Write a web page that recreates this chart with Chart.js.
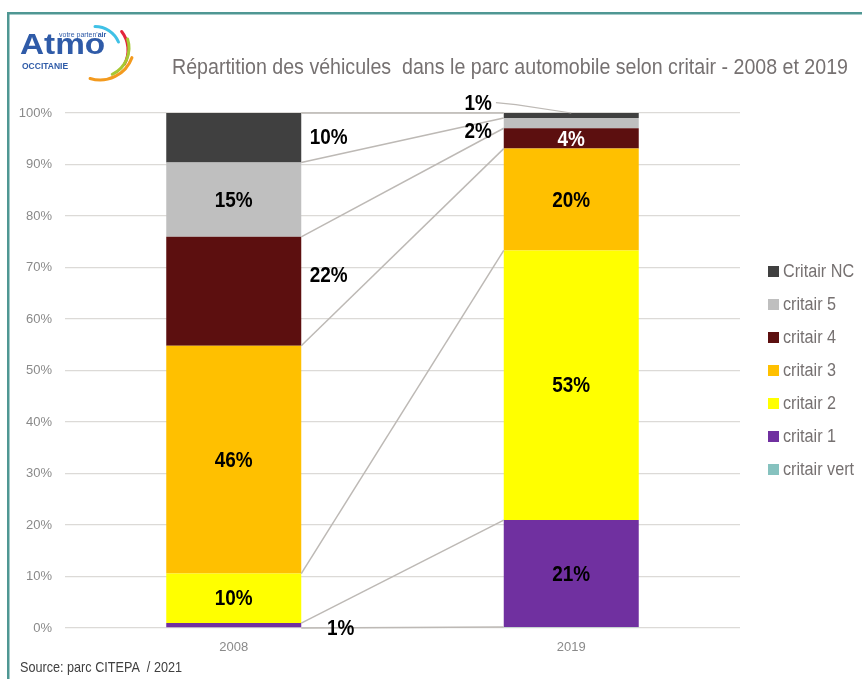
<!DOCTYPE html>
<html>
<head>
<meta charset="utf-8">
<script src="https://cdn.jsdelivr.net/npm/chart.js@4.4.1/dist/chart.umd.min.js"></script>
<style>
  html, body { margin: 0; padding: 0; background: #fff; }
</style>
</head>
<body>
<canvas id="myChart" width="862" height="679"></canvas>
<script>
const years = ['2008', '2019'];
const seriesNames = ['critair vert', 'critair 1', 'critair 2', 'critair 3', 'critair 4', 'critair 5', 'Critair NC'];
const seriesColors = ['#86c2bf', '#7030a0', '#ffff00', '#ffc000', '#5c0f0f', '#bfbfbf', '#404040'];
const insideTextColors = ['#000', '#000', '#000', '#000', '#fff', '#000', '#fff'];
// shares as labelled on the chart (Excel stacks them at 100%)
const shares2008 = [0, 1, 10, 46, 22, 15, 10];
const shares2019 = [0.2, 21, 53, 20, 4, 2, 1];
const yTicks = [0, 10, 20, 30, 40, 50, 60, 70, 80, 90, 100];

const FONT = "'Liberation Sans', Arial, sans-serif";
const rawByYear = [shares2008, shares2019];
const totals = rawByYear.map(a => a.reduce((s, v) => s + v, 0));

const datasets = seriesNames.map((name, i) => ({
  label: name,
  data: rawByYear.map((a, y) => a[i] / totals[y] * 100),
  backgroundColor: seriesColors[i],
  borderWidth: 0,
  barPercentage: 0.4,
  categoryPercentage: 1
}));

// labels moved out of their bar, like in the original sheet
const movedLabels = {
  '6-0': { dx: 95, dy: -1 },
  '4-0': { dx: 95, dy: -16 },
  '1-0': { dx: 107, dy: 3 },
  '6-1': { dx: -93, dy: -13, leader: true },
  '5-1': { dx: -93, dy: 8 }
};

// Arial Narrow is not available: squeeze Liberation Sans horizontally
function narrowText(ctx, txt, x, y, sx) {
  ctx.save();
  ctx.translate(x, y);
  ctx.scale(sx, 1);
  ctx.fillText(txt, 0, 0);
  ctx.restore();
}

const seriesLines = {
  id: 'seriesLines',
  afterDatasetsDraw(chart) {
    const ctx = chart.ctx;
    ctx.save();
    ctx.strokeStyle = '#bdb9b5';
    ctx.lineWidth = 1.5;
    chart.data.datasets.forEach((ds, i) => {
      const meta = chart.getDatasetMeta(i);
      const a = meta.data[0], b = meta.data[1];
      ctx.beginPath();
      ctx.moveTo(a.x + a.width / 2, a.y);
      ctx.lineTo(b.x - b.width / 2, b.y);
      ctx.stroke();
    });
    ctx.restore();
  }
};

const barLabels = {
  id: 'barLabels',
  afterDatasetsDraw(chart) {
    const ctx = chart.ctx;
    const sx = 0.86;
    ctx.save();
    ctx.font = 'bold 22px ' + FONT;
    ctx.textAlign = 'center';
    ctx.textBaseline = 'middle';
    chart.data.datasets.forEach((ds, i) => {
      const meta = chart.getDatasetMeta(i);
      meta.data.forEach((el, y) => {
        const raw = rawByYear[y][i];
        if (raw < 0.5) return;
        const txt = Math.round(raw) + '%';
        let x = el.x, cy = (el.y + el.base) / 2;
        const mv = movedLabels[i + '-' + y];
        ctx.fillStyle = insideTextColors[i];
        if (mv) {
          x += mv.dx; cy += mv.dy;
          ctx.fillStyle = '#000';
          if (mv.leader) {
            const w = ctx.measureText(txt).width * sx;
            ctx.save();
            ctx.strokeStyle = '#bdb9b5';
            ctx.lineWidth = 1.2;
            ctx.beginPath();
            ctx.moveTo(x + w / 2 + 4, cy);
            ctx.lineTo(x + w / 2 + 24, cy + 2);
            ctx.lineTo(el.x, el.y);
            ctx.stroke();
            ctx.restore();
          }
        }
        narrowText(ctx, txt, x, cy + 1, sx);
      });
    });
    ctx.restore();
  }
};

const decor = {
  id: 'decor',
  afterDraw(chart) {
    const ctx = chart.ctx;
    const area = chart.chartArea;
    ctx.save();
    // frame
    ctx.fillStyle = '#4f9793';
    ctx.fillRect(7, 12, 855, 2.5);
    ctx.fillRect(7, 12, 2.5, 667);

    // logo
    ctx.fillStyle = '#2f5ba8';
    ctx.textBaseline = 'alphabetic';
    ctx.textAlign = 'left';
    ctx.font = 'bold 29px ' + FONT;
    narrowText(ctx, 'Atmo', 20, 54, 1.15);
    ctx.font = '7px ' + FONT;
    ctx.fillText("votre parten'", 59, 37);
    const w1 = ctx.measureText("votre parten'").width;
    ctx.font = 'bold 7px ' + FONT;
    ctx.fillText('air', 59 + w1, 37);
    ctx.font = 'bold 8.5px ' + FONT;
    ctx.fillText('OCCITANIE', 22, 69);
    const d = Math.PI / 180;
    const arcs = [
      ['#3fc1e6', 95, 52, 25.5, -90, -23],
      ['#e3243b', 98, 50, 30, -38, 28],
      ['#a7c832', 100, 48, 29, -18, 65],
      ['#f39a1e', 100, 46, 34, 20, 107]
    ];
    ctx.lineWidth = 3;
    ctx.lineCap = 'round';
    arcs.forEach(([c, x, y, r, s, e]) => {
      ctx.strokeStyle = c;
      ctx.beginPath();
      ctx.arc(x, y, r, s * d, e * d);
      ctx.stroke();
    });

    // title
    const title = 'Répartition des véhicules  dans le parc automobile selon critair - 2008 et 2019';
    ctx.fillStyle = '#767171';
    ctx.font = '22px ' + FONT;
    ctx.textBaseline = 'middle';
    narrowText(ctx, title, 172, 68, 676 / ctx.measureText(title).width);

    // source
    const src = 'Source: parc CITEPA  / 2021';
    ctx.fillStyle = '#404040';
    ctx.font = '15px ' + FONT;
    narrowText(ctx, src, 20, 668, 162 / ctx.measureText(src).width);

    // legend
    const n = chart.data.datasets.length;
    const step = 33;
    const y0 = (area.top + area.bottom) / 2 - step * (n - 1) / 2;
    ctx.font = '18px ' + FONT;
    for (let k = n - 1; k >= 0; k--) {
      const ds = chart.data.datasets[k];
      const yy = y0 + (n - 1 - k) * step;
      ctx.fillStyle = ds.backgroundColor;
      ctx.fillRect(768, yy - 5.5, 11, 11);
      ctx.fillStyle = '#767171';
      narrowText(ctx, ds.label, 783, yy + 1, 0.9);
    }
    ctx.restore();
  }
};

const config = {
  type: 'bar',
  data: { labels: years, datasets: datasets },
  options: {
    responsive: false,
    animation: false,
    layout: { padding: { left: 10, right: 122, top: 113, bottom: 21 } },
    plugins: {
      legend: { display: false },
      title: { display: false },
      tooltip: { enabled: false }
    },
    scales: {
      x: {
        stacked: true,
        grid: { display: false, drawTicks: false },
        border: { display: false },
        ticks: { color: '#8a8a8a', font: { family: FONT, size: 13 }, padding: 12 },
        afterFit(scale) { scale.height = 30; }
      },
      y: {
        stacked: true,
        min: 0,
        max: 100,
        afterBuildTicks(scale) { scale.ticks = yTicks.map(v => ({ value: v })); },
        ticks: {
          color: '#8a8a8a',
          font: { family: FONT, size: 13 },
          padding: 13,
          callback: v => v + '%'
        },
        grid: { color: '#dcdad7', lineWidth: 1.3, drawTicks: false },
        border: { display: false },
        afterFit(scale) { scale.width = 55; }
      }
    }
  },
  plugins: [seriesLines, barLabels, decor]
};

const myChart = new Chart(document.getElementById('myChart'), config);
</script>
</body>
</html>
